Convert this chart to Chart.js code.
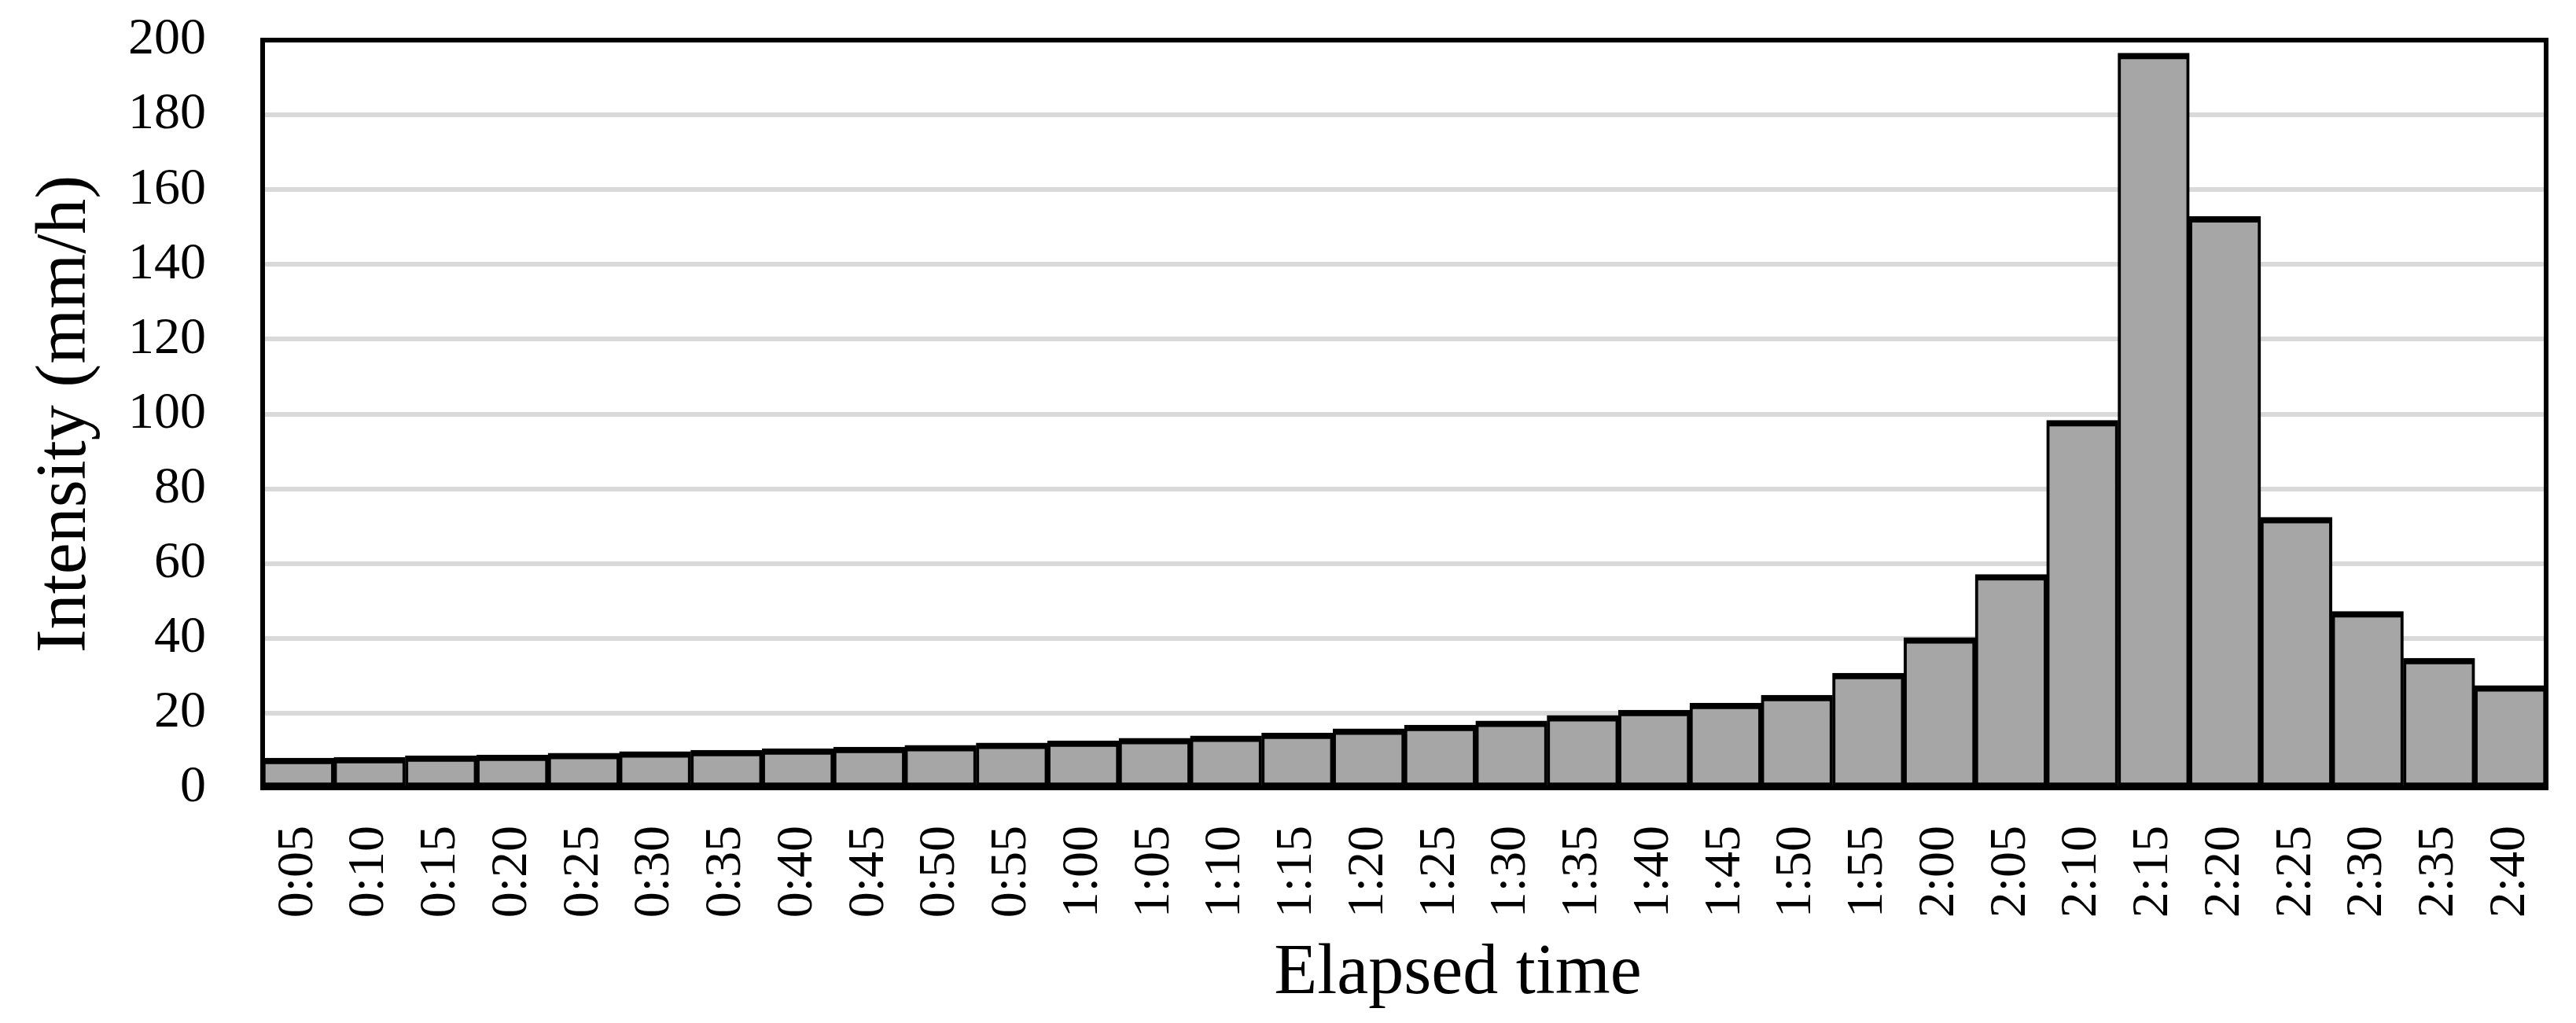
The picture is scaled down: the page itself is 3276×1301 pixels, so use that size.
<!DOCTYPE html>
<html>
<head>
<meta charset="utf-8">
<title>Rainfall intensity</title>
<script src="https://cdn.jsdelivr.net/npm/chart.js@4/dist/chart.umd.min.js"></script>
<style>
    html, body { margin: 0; padding: 0; background: #fff; }
    #wrap { width: 3276px; height: 1301px; }
</style>
</head>
<body>
<div id="wrap"><canvas id="rainChart" width="3276" height="1301"></canvas></div>
<script>
const timeLabels = ['0:05', '0:10', '0:15', '0:20', '0:25', '0:30', '0:35', '0:40',
    '0:45', '0:50', '0:55', '1:00', '1:05', '1:10', '1:15', '1:20',
    '1:25', '1:30', '1:35', '1:40', '1:45', '1:50', '1:55', '2:00',
    '2:05', '2:10', '2:15', '2:20', '2:25', '2:30', '2:35', '2:40'];
const intensity = [8.0, 8.2, 8.6, 8.8, 9.3, 9.7, 10.1, 10.5,
    10.9, 11.4, 12.0, 12.6, 13.3, 13.9, 14.7, 15.8,
    16.8, 17.9, 19.4, 20.8, 22.7, 24.8, 30.7, 40.2,
    57.1, 98.3, 196.5, 152.8, 72.4, 47.2, 34.7, 27.4];
const yTicks = [0, 20, 40, 60, 80, 100, 120, 140, 160, 180, 200];

const xTitle = 'Elapsed time';
const yTitle = 'Intensity (mm/h)';

const FONT = "'Liberation Serif', 'Times New Roman', serif";
const CLEAR = 'rgba(0,0,0,0)';

// Black frame round the plot area
const plotFrame = {
    id: 'plotFrame',
    afterDatasetsDraw(chart) {
        const { ctx, chartArea } = chart;
        ctx.save();
        ctx.strokeStyle = '#000';
        ctx.lineWidth = 6;
        ctx.strokeRect(chartArea.left, chartArea.top,
            chartArea.right - chartArea.left, chartArea.bottom - chartArea.top);
        ctx.restore();
    }
};

// X axis title sits a bit right of centre in the original
const xAxisTitle = {
    id: 'xAxisTitle',
    afterDraw(chart) {
        const { ctx, chartArea } = chart;
        ctx.save();
        ctx.font = `90px ${FONT}`;
        ctx.fillStyle = '#000';
        ctx.textAlign = 'center';
        ctx.textBaseline = 'alphabetic';
        ctx.fillText(xTitle, (chartArea.left + chartArea.right) / 2 + 68, chart.height - 38);
        ctx.restore();
    }
};

const ctx = document.getElementById('rainChart').getContext('2d');

new Chart(ctx, {
    type: 'bar',
    data: {
        labels: timeLabels,
        datasets: [{
            label: 'Intensity',
            data: intensity,
            backgroundColor: '#A6A6A6',
            borderColor: '#000',
            borderWidth: { top: 8, left: 4, right: 4, bottom: 4 },
            borderSkipped: false,
            categoryPercentage: 1.0,
            barPercentage: 1.0,
        }]
    },
    options: {
        responsive: false,
        animation: false,
        layout: {
            padding: { top: 51, right: 38, left: 0, bottom: 0 }
        },
        plugins: {
            legend: { display: false },
            tooltip: { enabled: false },
        },
        scales: {
            x: {
                // invisible tick marks give the label gap without extra overflow padding
                grid: { display: false, drawTicks: true, tickLength: 48, tickColor: CLEAR },
                border: { display: false },
                ticks: {
                    color: '#000',
                    font: { family: FONT, size: 66 },
                    minRotation: 90,
                    maxRotation: 90,
                    autoSkip: false,
                    padding: 0,
                },
                afterFit(scale) {
                    scale.height = 1301 - 1002;
                }
            },
            y: {
                min: 0,
                max: 200,
                afterBuildTicks(scale) {
                    scale.ticks = yTicks.map(v => ({ value: v }));
                },
                grid: {
                    color: (c) => (c.tick && (c.tick.value === 0 || c.tick.value === 200)) ? CLEAR : '#D9D9D9',
                    lineWidth: 6,
                    drawTicks: true,
                    tickLength: 72,
                    tickColor: CLEAR,
                },
                border: { display: false },
                ticks: {
                    color: '#000',
                    font: { family: FONT, size: 66 },
                    padding: 0,
                },
                title: {
                    display: true,
                    text: yTitle,
                    color: '#000',
                    font: { family: FONT, size: 90, lineHeight: 1 },
                    padding: { top: 39, bottom: 0 },
                },
                afterFit(scale) {
                    scale.width = 334;
                }
            }
        }
    },
    plugins: [plotFrame, xAxisTitle]
});
</script>
</body>
</html>
